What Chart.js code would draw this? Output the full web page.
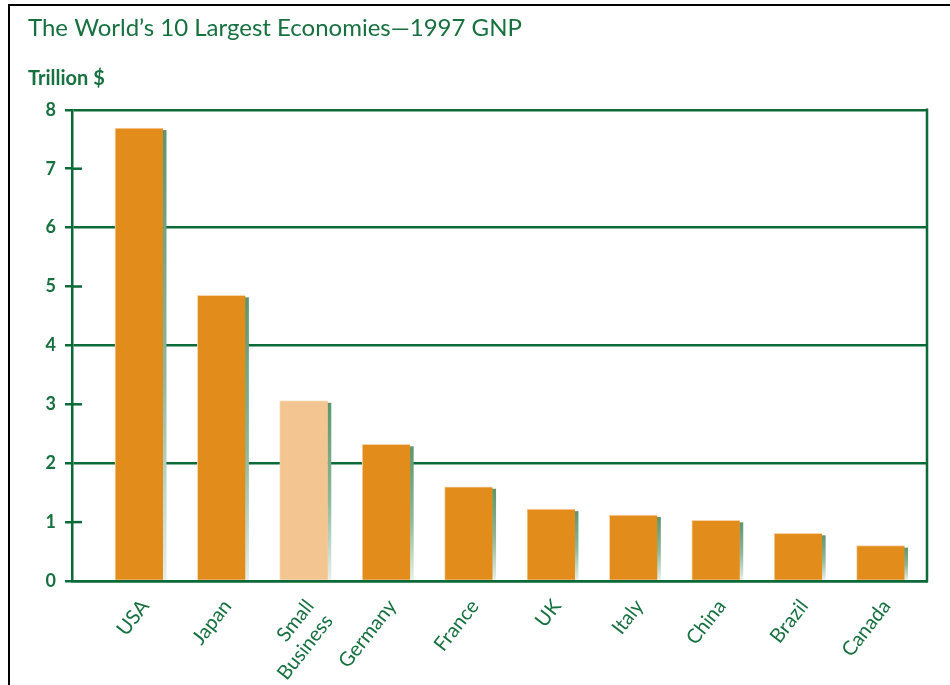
<!DOCTYPE html>
<html>
<head>
<meta charset="utf-8">
<script src="https://cdn.jsdelivr.net/npm/chart.js@4.4.1/dist/chart.umd.min.js"></script>
<style>
  html, body { margin: 0; padding: 0; background: #ffffff; overflow: hidden; }
  #frame { position: absolute; left: 8px; top: 4px; width: 1000px; height: 800px;
           border-left: 2px solid #000; border-top: 2px solid #000; }
  #wrap { position: absolute; left: 0; top: 0; width: 950px; height: 685px; }
</style>
</head>
<body>
<div id="frame"></div>
<div id="wrap"><canvas id="c" width="950" height="685"></canvas></div>
<script>
// ---- data ----
const categories = ['USA', 'Japan', ['Small', 'Business'], 'Germany', 'France', 'UK', 'Italy', 'China', 'Brazil', 'Canada'];
const gnpTrillions = [7.69, 4.85, 3.06, 2.32, 1.60, 1.22, 1.12, 1.03, 0.81, 0.60];
const highlightCategory = 'Small Business';
const yMin = 0, yMax = 8, yStep = 1;
const titleText = 'The World\u2019s 10 Largest Economies\u20141997 GNP';
const unitText = 'Trillion $';

// ---- styles ----
const GREEN = '#0b6a37';
const TEXT_GREEN = '#17703f';
const ORANGE = '#e28c1c';
const LIGHT_ORANGE = '#f3c591';
const FONT = 'Lato, "Noto Sans", sans-serif';

const catName = c => Array.isArray(c) ? c.join(' ') : c;
const points = gnpTrillions.map((v, i) => ({ x: i, y: v }));
const barColors = categories.map(c => catName(c) === highlightCategory ? LIGHT_ORANGE : ORANGE);

const decor = {
  id: 'decor',
  beforeDatasetsDraw(chart) {
    const { ctx, chartArea: a, scales: { y } } = chart;
    ctx.save();
    ctx.strokeStyle = GREEN;
    ctx.lineWidth = 2.5;
    // right frame line
    ctx.beginPath();
    ctx.moveTo(a.right, y.getPixelForValue(yMax) - 1.25);
    ctx.lineTo(a.right, y.getPixelForValue(yMin) + 1.25);
    ctx.stroke();
    // inner minor ticks on odd values
    y.ticks.forEach(t => {
      if (Math.round(t.value) % 2 === 1) {
        const py = y.getPixelForValue(t.value);
        ctx.beginPath();
        ctx.moveTo(a.left, py);
        ctx.lineTo(a.left + 10, py);
        ctx.stroke();
      }
    });
    // bar shadows
    const meta = chart.getDatasetMeta(0);
    meta.data.forEach(bar => {
      const p = bar.getProps(['x', 'y', 'base', 'width'], true);
      const left = p.x + p.width / 2;
      const top = p.y + 2;
      const g = ctx.createLinearGradient(0, top, 0, p.base);
      g.addColorStop(0, '#5c966d');
      g.addColorStop(0.55, '#8fb89a');
      g.addColorStop(1, '#e6efe8');
      ctx.fillStyle = g;
      ctx.fillRect(left - 0.5, top, 4, p.base - top);
    });
    ctx.restore();
  }
};

new Chart(document.getElementById('c'), {
  type: 'bar',
  data: {
    datasets: [{
      data: points,
      backgroundColor: barColors,
      borderColor: '#f7d3a6',
      borderWidth: { top: 1, left: 1, right: 0, bottom: 0 },
      borderSkipped: false,
      barThickness: 48
    }]
  },
  plugins: [decor],
  options: {
    responsive: false,
    animation: false,
    events: [],
    layout: { padding: { left: 28, top: 14, right: 23, bottom: 0 } },
    plugins: {
      legend: { display: false },
      tooltip: { enabled: false },
      title: {
        display: true, text: titleText, align: 'start', color: TEXT_GREEN,
        font: { family: FONT, size: 24, weight: 'normal' },
        padding: { top: 0, bottom: 24 }
      },
      subtitle: {
        display: true, text: unitText, align: 'start', color: TEXT_GREEN,
        font: { family: FONT, size: 20, weight: 'bold' },
        padding: { top: 0, bottom: 19 }
      }
    },
    scales: {
      x: {
        type: 'linear',
        bounds: 'data',
        offset: false,
        min: -0.813, max: 9.564,
        grid: { display: true, offset: false, drawOnChartArea: false, drawTicks: false, color: 'rgba(0,0,0,0)' },
        border: { display: true, color: GREEN, width: 2.5 },
        afterBuildTicks: s => { s.ticks = categories.map((c, i) => ({ value: i })); },
        ticks: {
          autoSkip: false,
          minRotation: 52, maxRotation: 52, padding: 14, labelOffset: 6,
          color: TEXT_GREEN, font: { family: FONT, size: 20 },
          callback: v => (Number.isInteger(v) && v >= 0 && v < categories.length) ? categories[v] : ''
        },
        afterFit: s => { s.height = 104; }
      },
      y: {
        min: yMin, max: yMax,
        grid: {
          color: c => (c.tick && Math.round(c.tick.value) % 2 === 0) ? GREEN : 'rgba(0,0,0,0)',
          lineWidth: 2.5, tickColor: GREEN, tickWidth: 2.5, tickLength: 7
        },
        border: { display: true, color: GREEN, width: 2.5 },
        ticks: {
          stepSize: yStep, padding: 9, color: TEXT_GREEN,
          font: { family: FONT, size: 18, weight: 'bold' }
        },
        afterFit: s => { s.width = 44; }
      }
    }
  }
});
</script>
</body>
</html>
